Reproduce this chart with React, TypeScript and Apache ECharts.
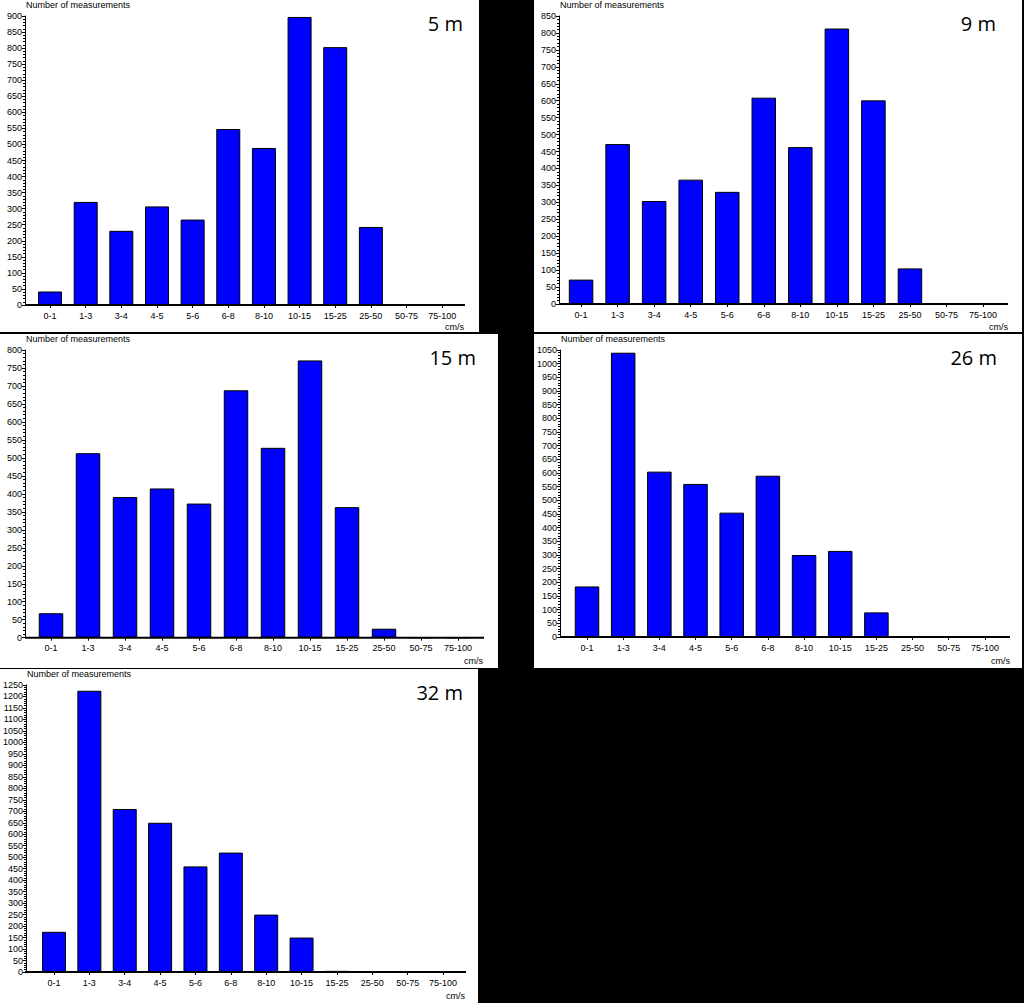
import React, { useEffect, useRef } from "react";
import * as echarts from "echarts";

// ---- data ----
const categories = ["0-1", "1-3", "3-4", "4-5", "5-6", "6-8", "8-10", "10-15", "15-25", "25-50", "50-75", "75-100"];
const depthLabels = ["5 m", "9 m", "15 m", "26 m", "32 m"];
const values5m = [42, 321, 231, 307, 266, 548, 489, 897, 803, 243, 0, 0];
const values9m = [72, 472, 304, 367, 331, 609, 463, 813, 601, 105, 0, 0];
const values15m = [68, 513, 391, 415, 373, 688, 528, 771, 363, 25, 0, 0];
const values26m = [185, 1040, 605, 560, 455, 590, 300, 315, 90, 0, 0, 0];
const values32m = [175, 1225, 710, 650, 460, 520, 250, 150, 5, 0, 0, 0];
const yMaxes = [900, 850, 800, 1050, 1250];
const yInterval = 50;
const yAxisTitle = "Number of measurements";
const xUnit = "cm/s";

const seriesValues = [values5m, values9m, values15m, values26m, values32m];

// ---- layout (pixels, panel-relative) ----
type Layout = {
  left: number; top: number; w: number; h: number;
  axisX: number; topY: number; zeroY: number;
  catStart: number; catEnd: number; axisEnd: number;
  barW: number; titleRight: number; titleY: number; unitRight: number; unitY: number;
};
const layouts: Layout[] = [
  { left: 0, top: 0, w: 479, h: 332, axisX: 25, topY: 13, zeroY: 305, catStart: 32.2, catEnd: 460, axisEnd: 465, barW: 24, titleRight: 463, titleY: 23, unitRight: 464, unitY: 327 },
  { left: 534, top: 0, w: 488, h: 332, axisX: 25, topY: 13, zeroY: 304, catStart: 28.8, catEnd: 467.3, axisEnd: 474, barW: 24.5, titleRight: 462, titleY: 23, unitRight: 474, unitY: 327 },
  { left: 0, top: 334, w: 498, h: 334, axisX: 25, topY: 12, zeroY: 303.7, catStart: 32.5, catEnd: 476.5, axisEnd: 484, barW: 24.5, titleRight: 476, titleY: 23, unitRight: 483, unitY: 327 },
  { left: 534, top: 334, w: 488, h: 334, axisX: 26, topY: 12, zeroY: 303, catStart: 34.9, catEnd: 469, axisEnd: 476, barW: 24.5, titleRight: 463, titleY: 23, unitRight: 476, unitY: 327 },
  { left: 0, top: 669, w: 478, h: 334, axisX: 25, topY: 11, zeroY: 303, catStart: 35.3, catEnd: 460.7, axisEnd: 466, barW: 24, titleRight: 463, titleY: 23, unitRight: 465, unitY: 327 },
];

const FONT = "Liberation Sans, Arial, sans-serif";

function Panel({ idx }: { idx: number }) {
  const ref = useRef<HTMLDivElement>(null);
  const L = layouts[idx];
  useEffect(() => {
    if (!ref.current) return;
    const chart = echarts.init(ref.current, null, { renderer: "svg" });
    chart.setOption({
      animation: false,
      backgroundColor: "#ffffff",
      grid: {
        left: L.catStart,
        right: L.w - L.catEnd,
        top: L.topY,
        bottom: L.h - L.zeroY,
        containLabel: false,
      },
      xAxis: {
        type: "category",
        data: categories,
        axisLine: { show: false },
        axisTick: { show: true, alignWithLabel: true, length: 3, lineStyle: { color: "#000" } },
        axisLabel: { interval: 0, fontSize: 9, color: "#000", margin: 6, fontFamily: FONT },
        splitLine: { show: false },
      },
      yAxis: {
        type: "value",
        min: 0,
        max: yMaxes[idx],
        interval: yInterval,
        offset: L.catStart - L.axisX,
        axisLine: { show: true, lineStyle: { color: "#000", width: 1 } },
        axisTick: { show: true, length: 3, lineStyle: { color: "#000" } },
        minorTick: { show: true, splitNumber: 5, length: 2, lineStyle: { color: "#000" } },
        splitLine: { show: false },
        axisLabel: {
          fontSize: 9,
          color: "#000",
          margin: 3,
          fontFamily: FONT,
          formatter: (v: number) => String(v),
        },
        name: yAxisTitle,
        nameLocation: "end",
        nameGap: 7,
        nameTextStyle: { align: "left", fontSize: 9, color: "#000", fontFamily: FONT, padding: [0, 0, 0, 1] },
      },
      series: [
        {
          type: "bar",
          data: seriesValues[idx],
          barWidth: L.barW,
          itemStyle: { color: "#0000ff", borderColor: "#000", borderWidth: 1 },
        },
      ],
      graphic: [
        {
          type: "line",
          shape: { x1: L.axisX, y1: L.zeroY, x2: L.axisEnd, y2: L.zeroY },
          style: { stroke: "#000", lineWidth: 2 },
          z: 10,
        },
        {
          type: "text",
          x: L.unitRight,
          y: L.unitY,
          style: { text: xUnit, fill: "#000", font: `9px ${FONT}`, textAlign: "right", textVerticalAlign: "middle" },
        },
        {
          type: "text",
          x: L.titleRight,
          y: L.titleY,
          style: {
            text: depthLabels[idx],
            fill: "#000",
            font: `normal 400 20px "Open Sans", "Noto Sans", sans-serif`,
            textAlign: "right",
            textVerticalAlign: "middle",
          },
        },
      ],
    });
    return () => chart.dispose();
  }, []);
  return (
    <div
      ref={ref}
      style={{ position: "absolute", left: L.left, top: L.top, width: L.w, height: L.h }}
    />
  );
}

export default function App() {
  useEffect(() => {
    document.body.style.margin = "0";
    document.body.style.background = "#000";
  }, []);
  return (
    <div style={{ position: "relative", width: 1024, height: 1003, background: "#000", overflow: "hidden" }}>
      {layouts.map((_, i) => (
        <Panel key={i} idx={i} />
      ))}
    </div>
  );
}
